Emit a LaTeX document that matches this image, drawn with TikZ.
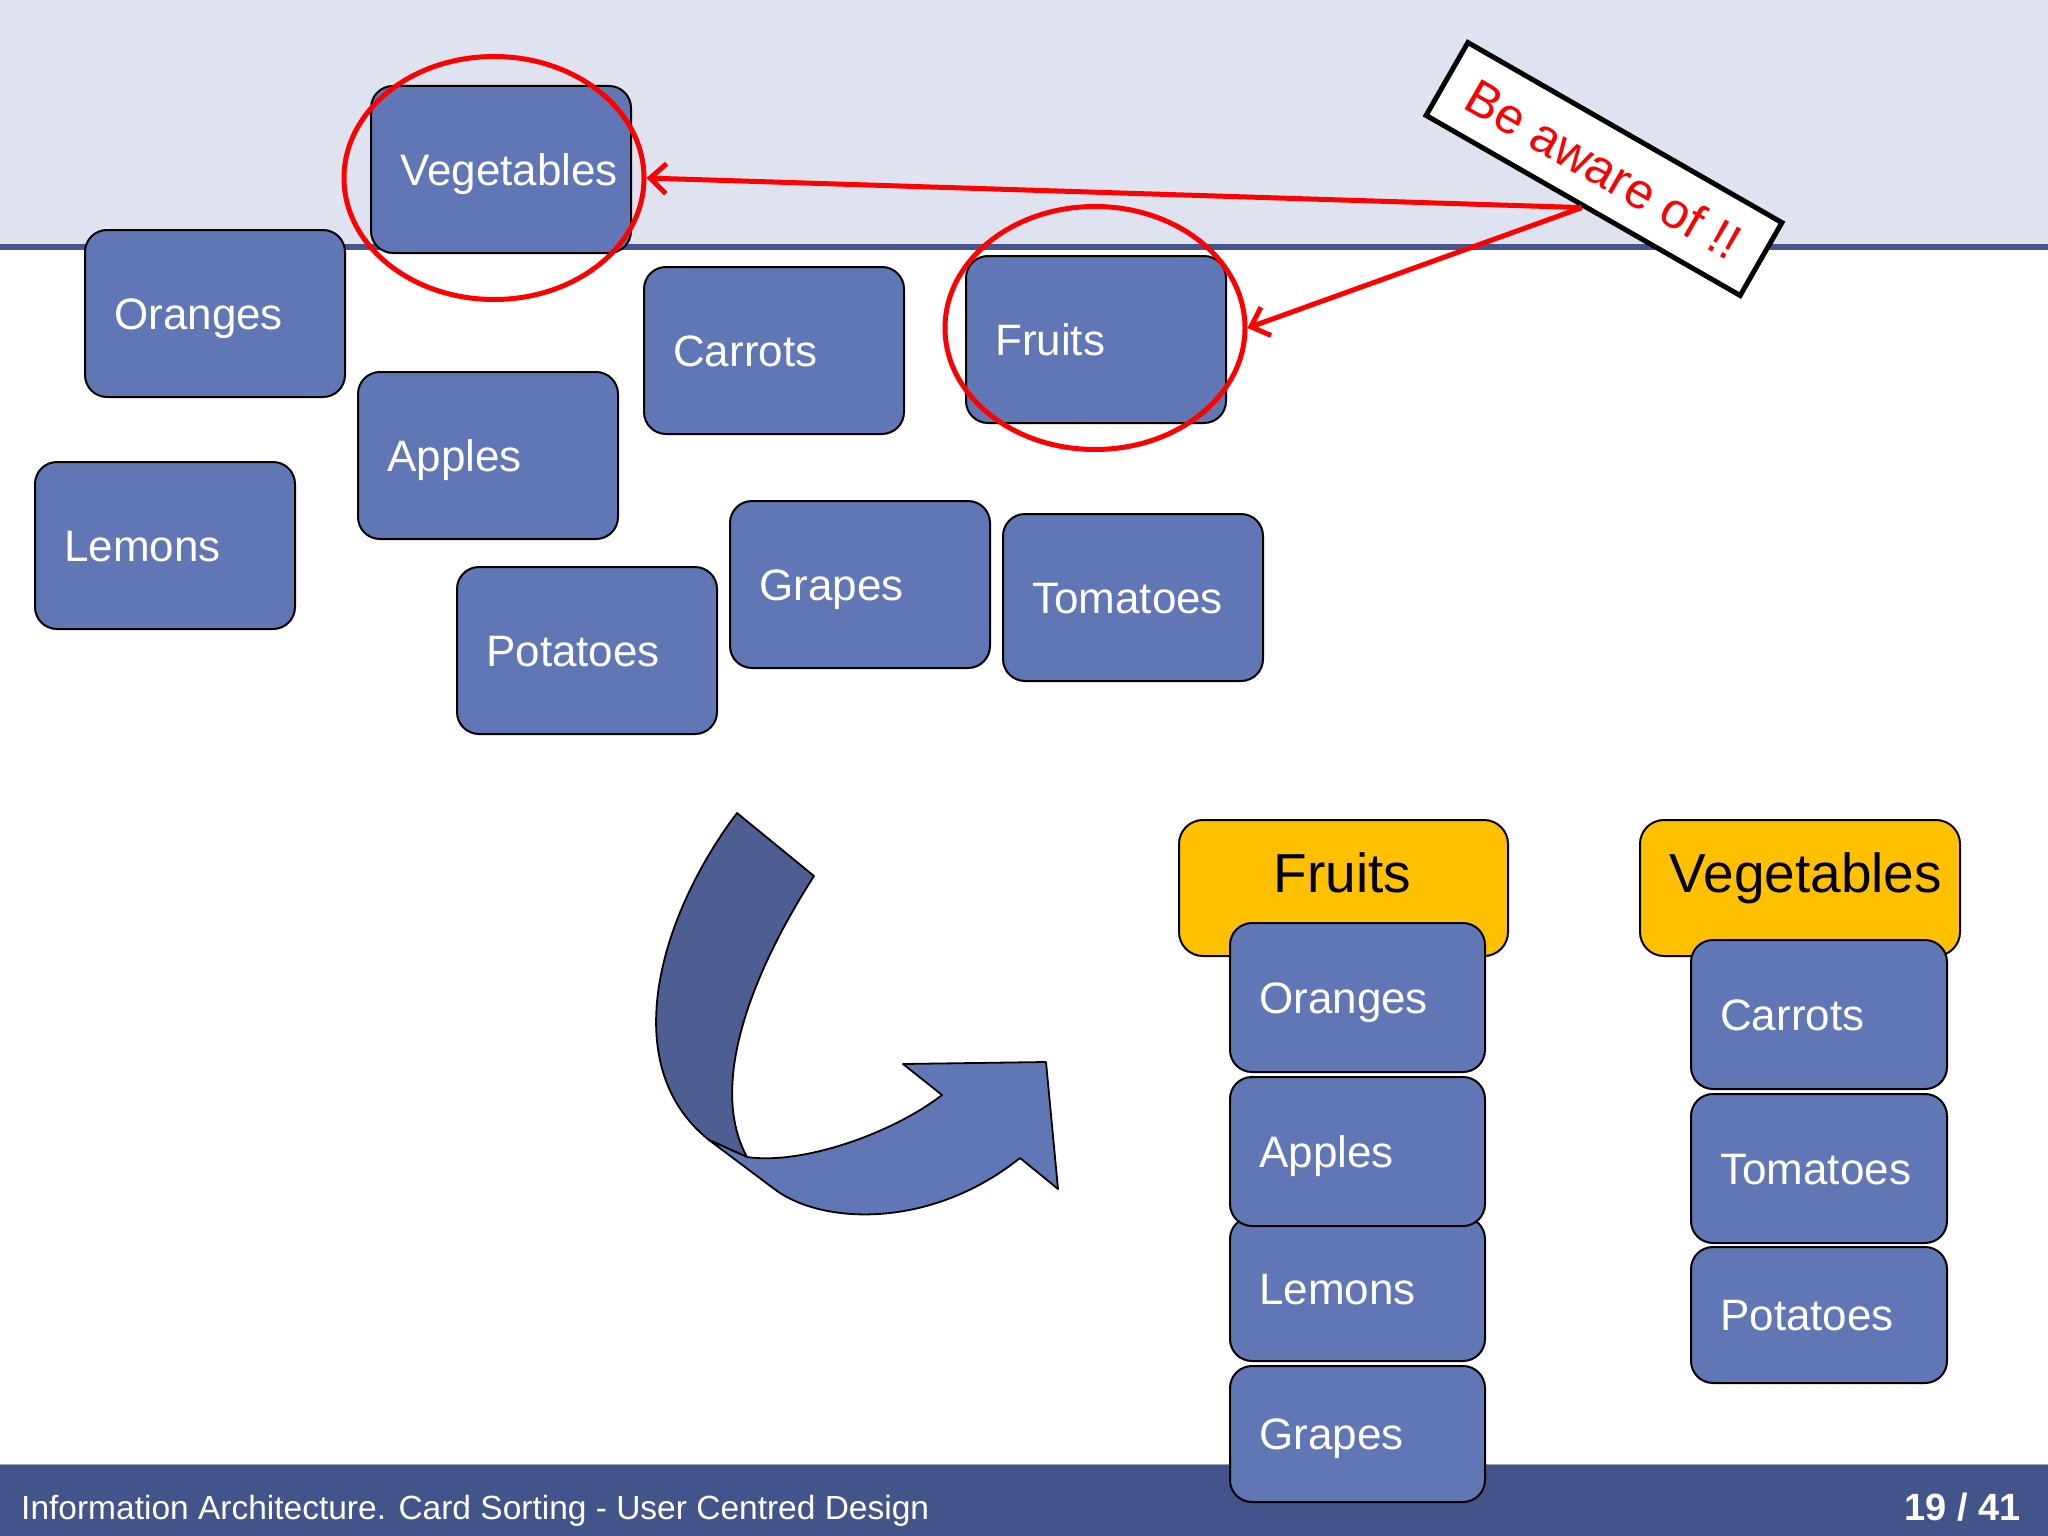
\documentclass[tikz,border=0pt]{standalone}
\usepackage{fontspec}
\setmainfont{Liberation Sans}
\usetikzlibrary{shapes.geometric,arrows.meta}
\definecolor{bandc}{RGB}{223,227,240}
\definecolor{linec}{RGB}{68,86,140}
\definecolor{footc}{RGB}{66,84,138}
\definecolor{footline}{RGB}{150,160,192}
\definecolor{cardc}{RGB}{97,118,180}
\definecolor{darkc}{RGB}{78,94,146}
\definecolor{headc}{RGB}{255,192,0}
\definecolor{warnred}{RGB}{255,0,0}
\newcommand\mycard[4]{\node[card,#2] (#1) at #3 {};
  \node[cardlabel] (#1-t) at ([xshift=30pt]#1.west) {#4};}
\begin{document}
\begin{tikzpicture}[x=1pt,y=-1pt,
  card/.style={draw=black, line width=2pt, fill=cardc, rounded corners=22pt,
    anchor=north west, inner sep=0pt, minimum width=260pt, minimum height=167pt},
  cardlabel/.style={anchor=west, inner sep=0pt, text=white,
    font=\fontsize{44pt}{50pt}\selectfont, text height=31.5pt, text depth=0pt},
  head/.style={draw=black, line width=2pt, fill=headc, rounded corners=24pt,
    anchor=north west, inner sep=0pt},
  headlabel/.style={inner sep=0pt, text=black,
    font=\fontsize{55pt}{60pt}\selectfont, text height=39.5pt, text depth=0pt},
  ring/.style={ellipse, draw=warnred, line width=5pt, minimum width=300pt,
    minimum height=243pt, inner sep=0pt},
  warnarrow/.style={draw=warnred, line width=5pt,
    -{Straight Barb[length=16pt,width=30pt]}},
  ribbon/.style={draw=black, line width=1.8pt, line join=round}
]
\useasboundingbox (0,0) rectangle (2048,1536);
\fill[white] (0,0) rectangle (2048,1536);
% top band and rule
\fill[bandc] (0,0) rectangle (2048,246);
\fill[linec] (0,244) rectangle (2048,249.5);
% footer
\fill[footc] (0,1464) rectangle (2048,1536);
\draw[footline, line width=1.5pt] (0,1464.5) -- (2048,1464.5);
\node[anchor=base west, inner sep=0pt, text=white, font=\fontsize{33.5pt}{38pt}\selectfont]
  (foottext) at (21,1519) {Information Architecture. Card Sorting - User Centred Design};
\node[anchor=base east, inner sep=0pt, text=white, font=\fontsize{38pt}{42pt}\selectfont\bfseries]
  (pagenum) at (2021,1520) {19 / 41};

% scattered cards
\mycard{vegT}{}{(370,85)}{Vegetables}
\mycard{orangesT}{}{(84,229)}{Oranges}
\mycard{carrotsT}{}{(643,266)}{Carrots}
\mycard{fruitsT}{}{(965,255)}{Fruits}
\mycard{applesT}{}{(357,371)}{Apples}
\mycard{lemonsT}{}{(34,461)}{Lemons}
\mycard{potatoesT}{}{(456,566)}{Potatoes}
\mycard{grapesT}{}{(729,500)}{Grapes}
\mycard{tomatoesT}{}{(1002,513)}{Tomatoes}

% curved arrow
\filldraw[ribbon, fill=darkc] (737,813) -- (814,876)
  .. controls (760,960) and (705,1080) .. (747,1157) -- (709,1140)
  .. controls (615,1065) and (660,915) .. (737,813) -- cycle;
\filldraw[ribbon, fill=cardc] (709,1140) -- (773,1188)
  .. controls (820,1225) and (930,1230) .. (1020,1158)
  -- (1058,1189) -- (1046,1062) -- (903,1064) -- (942,1095)
  .. controls (890,1135) and (800,1165) .. (747,1157) -- cycle;

% sorted groups
\node[head, minimum width=329pt, minimum height=136pt] (fhead) at (1178,819) {};
\node[headlabel] (fhead-t) at (1342.5,872.5) {Fruits};
\mycard{fOr}{minimum width=255pt, minimum height=149pt}{(1229,922)}{Oranges}
\mycard{fLe}{minimum width=255pt, minimum height=144pt}{(1229,1216)}{Lemons}
\mycard{fAp}{minimum width=255pt, minimum height=149pt}{(1229,1076)}{Apples}
\mycard{fGr}{minimum width=255pt, minimum height=136pt}{(1229,1365)}{Grapes}

\node[head, minimum width=320pt, minimum height=136pt] (vhead) at (1639,819) {};
\node[headlabel] (vhead-t) at (1806,872.5) {Vegetables};
\mycard{vCa}{minimum width=256pt, minimum height=149pt}{(1690,939)}{Carrots}
\mycard{vTo}{minimum width=256pt, minimum height=149pt}{(1690,1093)}{Tomatoes}
\mycard{vPo}{minimum width=256pt, minimum height=136pt}{(1690,1246)}{Potatoes}

% red highlights
\node[ring] (vegring) at (494,178) {};
\node[ring] (fruitring) at (1095,328) {};
\node[draw=black, line width=5pt, fill=white, rotate=-29.83, minimum width=362pt,
  minimum height=84pt, inner sep=0pt, text=warnred,
  font=\fontsize{50pt}{54pt}\selectfont, text height=36pt, text depth=0pt]
  (warnbox) at (1604,169) {Be aware of !!};
\draw[warnarrow] (warnbox.south) -- (vegring.east);
\draw[warnarrow] (warnbox.south) -- (fruitring.east);
\end{tikzpicture}
\end{document}
